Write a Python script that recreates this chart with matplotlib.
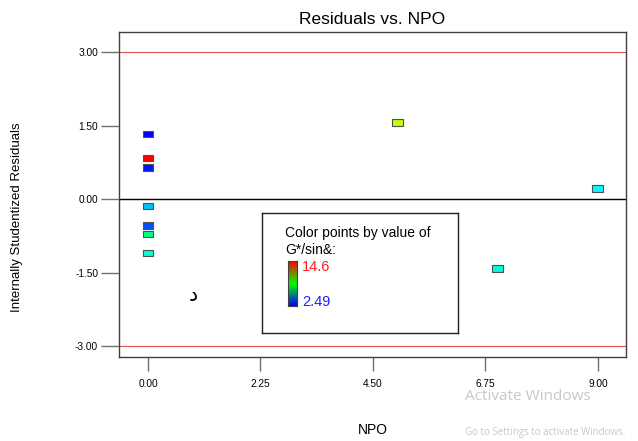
import matplotlib

matplotlib.use("Agg")
import matplotlib.pyplot as plt
import numpy as np
from matplotlib.colors import LinearSegmentedColormap, Normalize

plt.rcParams["font.family"] = ["Liberation Sans", "DejaVu Sans"]

# run data: NPO, residual, and the G*/sin& value used for the colour
npo = [0.0, 0.0, 0.0, 0.0, 0.0, 0.0, 0.0, 5.0, 9.0, 7.0]
residuals = [1.33, 0.84, 0.64, -0.14, -0.54, -0.71, -1.10, 1.57, 0.22, -1.42]
g_sin = [2.49, 14.6, 2.75, 4.8, 3.45, 7.0, 6.05, 10.85, 5.5, 6.0]

x_ticks = [0.0, 2.25, 4.5, 6.75, 9.0]
y_ticks = [-3.0, -1.5, 0.0, 1.5, 3.0]
limit = 3.0

cmap = LinearSegmentedColormap.from_list(
    "de", ["#0000ff", "#00ffff", "#00ff00", "#ffff00", "#ff0000"])
bar_cmap = LinearSegmentedColormap.from_list("bar", ["#0000ff", "#00ff00", "#ff0000"])
norm = Normalize(min(g_sin), max(g_sin))

fig = plt.figure(figsize=(6.38, 4.41), dpi=100)
ax = fig.add_axes([0.1865, 0.1905, 0.7945, 0.737])

ax.axhline(0, color="black", lw=1.0, zorder=1)
ax.axhline(limit, color="#e05050", lw=0.8, zorder=1)
ax.axhline(-limit, color="#e05050", lw=0.8, zorder=1)

rect = [(-1, -0.62), (1, -0.62), (1, 0.62), (-1, 0.62), (-1, -0.62)]
ax.scatter(npo, residuals, c=[cmap(norm(v)) for v in g_sin], marker=rect,
           s=62, edgecolors="#505050", linewidths=0.8, zorder=3)

ax.set_xlim(-0.58, 9.56)
ax.set_ylim(-3.22, 3.41)
ax.set_xticks(x_ticks)
ax.set_xticklabels([f"{v:.2f}" for v in x_ticks])
ax.set_yticks(y_ticks)
ax.set_yticklabels([f"{v:.2f}" for v in y_ticks])
ax.tick_params(axis="both", direction="out", length=10, width=1.0,
               color="#707070", labelsize=7.3, pad=6)
ax.tick_params(axis="y", length=13, pad=2)
for s in ax.spines.values():
    s.set_color("#404040")
    s.set_linewidth(1.0)

ax.set_title("Residuals vs. NPO", fontsize=12.5, pad=6)
ax.set_xlabel("NPO", fontsize=10, labelpad=24)
ax.set_ylabel("Internally Studentized Residuals", fontsize=9.5)
ax.yaxis.set_label_coords(-0.19, 0.43)

# colour legend box
box = fig.add_axes([262 / 638, 1 - 333 / 441, 196 / 638, 120 / 441])
box.set_xticks([])
box.set_yticks([])
for s in box.spines.values():
    s.set_color("#202020")
    s.set_linewidth(1.0)
box.text(23 / 196, 1 - 20 / 120, "Color points by value of", fontsize=10,
         transform=box.transAxes, va="center", ha="left")
box.text(23 / 196, 1 - 37 / 120, "G*/sin&:", fontsize=10,
         transform=box.transAxes, va="center", ha="left")
bar = fig.add_axes([288 / 638, 1 - 306 / 441, 9 / 638, 45 / 441])
bar.imshow(np.linspace(1, 0, 100).reshape(-1, 1), cmap=bar_cmap, aspect="auto")
bar.set_xticks([])
bar.set_yticks([])
for s in bar.spines.values():
    s.set_color("#404040")
fig.text(302 / 638, 1 - 267 / 441, f"{max(g_sin):.1f}", color="#ff2020",
         fontsize=10.5, va="center", ha="left")
fig.text(302 / 638, 1 - 302 / 441, f"{min(g_sin):.2f}", color="#2020ff",
         fontsize=10.5, va="center", ha="left")

fig.text(193 / 638, 1 - 295 / 441, "د", fontsize=15, family="DejaVu Sans",
         ha="center", va="center")

# screen watermark seen in the reference
fig.text(465 / 638, 1 - 397 / 441, "Activate Windows", color="#c8c8c8",
         fontsize=11, family="Open Sans", ha="left", va="center")
fig.text(465 / 638, 1 - 433 / 441, "Go to Settings to activate Windows.",
         color="#c8c8c8", fontsize=7, family="Open Sans", ha="left", va="center")

fig.savefig("out.png", dpi=100)
